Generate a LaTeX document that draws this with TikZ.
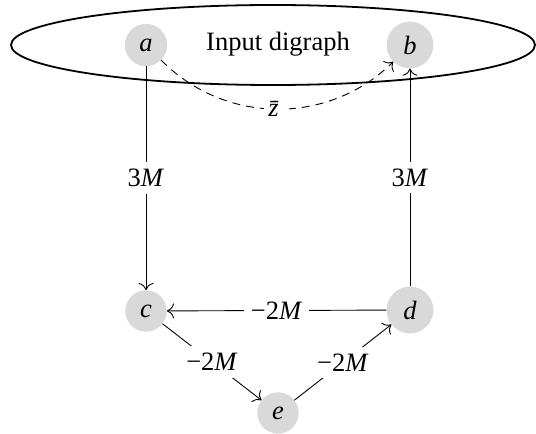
\documentclass[tikz,border=0pt]{standalone}
\usepackage{fontspec}
\setmainfont{Liberation Serif}
\usetikzlibrary{arrows.meta}
\begin{document}
\begin{tikzpicture}[x=1pt,y=1pt,
  every node/.style={font=\fontsize{26.5}{30}\selectfont},
  vtx/.style={circle,fill=gray!30,inner sep=8.5pt},
  lbl/.style={fill=white,inner sep=7pt},
  edge/.style={-{To[scale=2]},line width=0.9pt},
  ring/.style={line width=1.8pt}
]
\clip (0,0) rectangle (536,434);
\useasboundingbox (0,0) rectangle (536,434);
\draw[ring] (273,389) ellipse [x radius=262, y radius=40];
\node (t) at (278,390) {Input digraph};
\node[vtx] (a) at (146,389) {\textit{a}};
\node[vtx] (b) at (410,389) {\textit{b}};
\node[vtx] (c) at (146,123) {\textit{c}};
\node[vtx] (d) at (410,124) {\textit{d}};
\node[vtx] (e) at (278,21) {\textit{e}};
\draw[edge] (a) -- node[lbl] {3\textit{M}} (c);
\draw[edge] (d) -- node[lbl] {3\textit{M}} (b);
\draw[edge] (d) -- node[lbl] {−2\textit{M}} (c);
\draw[edge] (c) -- node[lbl] {−2\textit{M}} (e);
\draw[edge] (e) -- node[lbl] {−2\textit{M}} (d);
\draw[edge,dash pattern=on 8pt off 6pt] (a) to[bend right=45] node[lbl,inner sep=4pt] {\textit{\=z}} (b);
\end{tikzpicture}
\end{document}
